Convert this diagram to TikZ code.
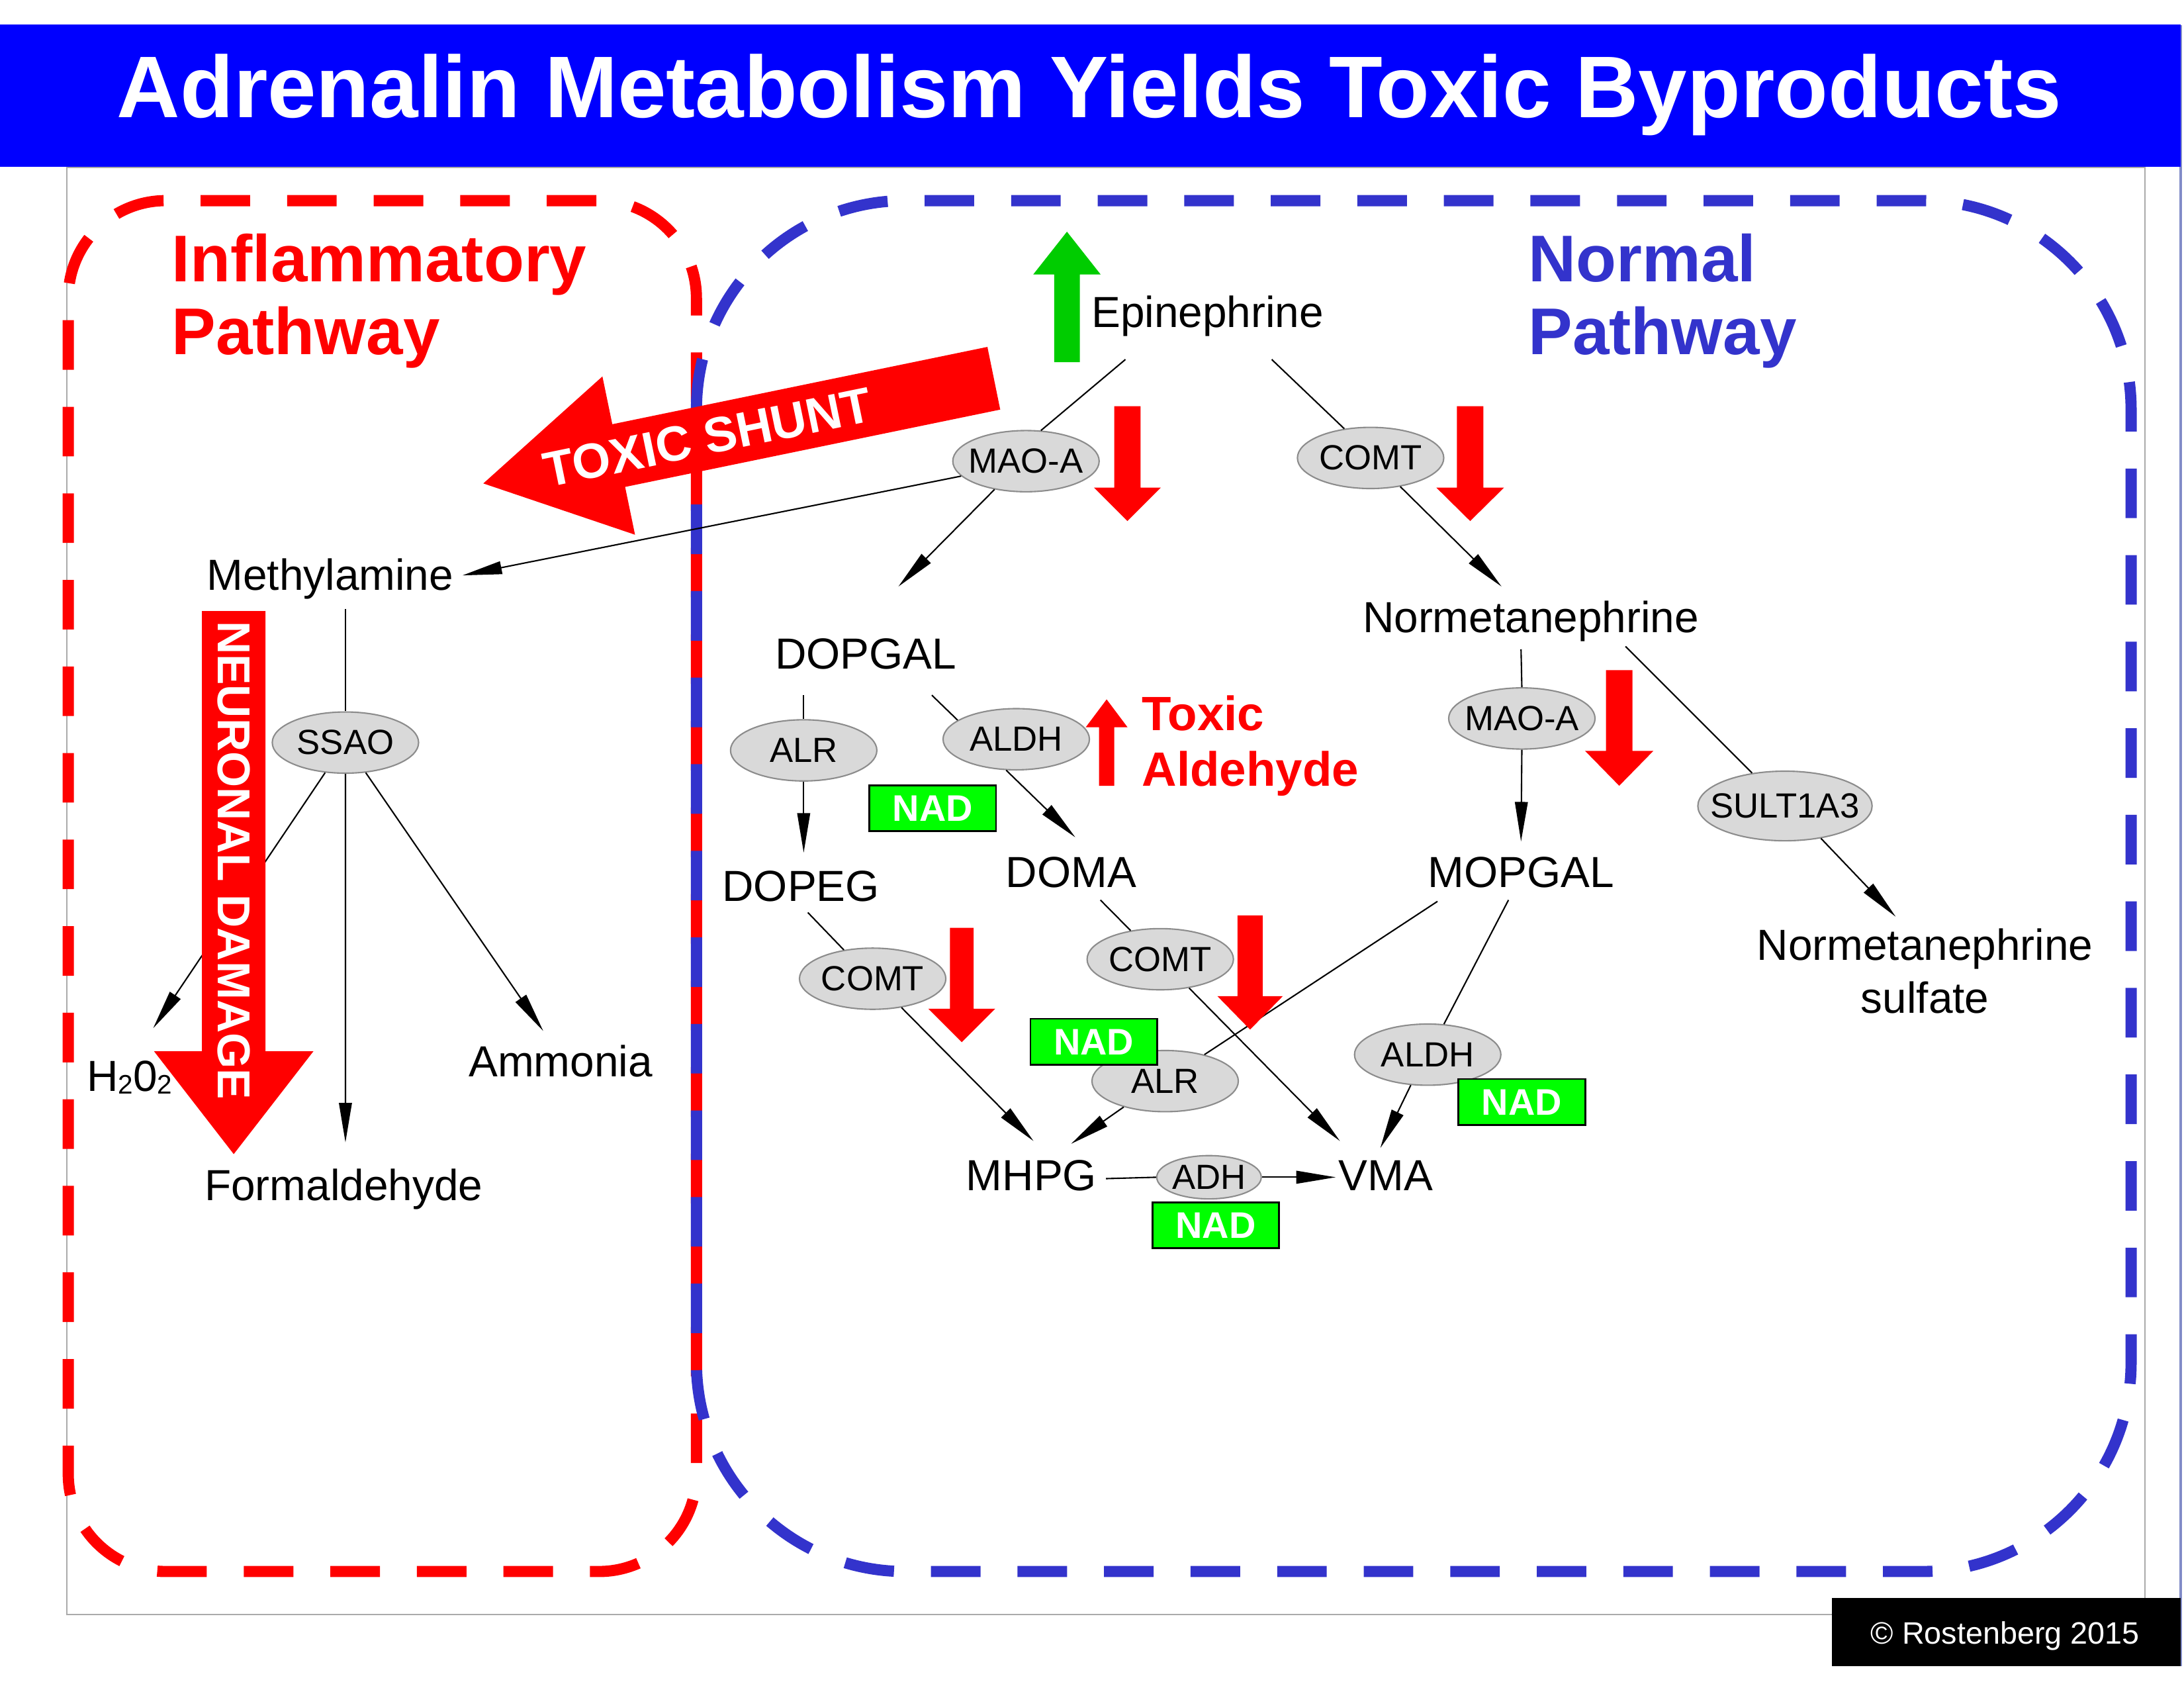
\documentclass[tikz,border=0pt]{standalone}
\usepackage{fontspec}
\setmainfont{Liberation Sans}
\usetikzlibrary{shapes.geometric,arrows.meta,calc}
\definecolor{titleblue}{RGB}{0,0,255}
\definecolor{pathblue}{RGB}{51,51,204}
\definecolor{arrred}{RGB}{255,0,0}
\definecolor{arrgreen}{RGB}{0,204,0}
\definecolor{nadgreen}{RGB}{0,255,0}
\definecolor{enzfill}{RGB}{217,217,217}
\definecolor{enzline}{RGB}{140,140,140}
\definecolor{framegray}{RGB}{170,170,170}
\definecolor{edgeblue}{RGB}{130,140,200}
\newcommand{\blockarrow}[7]{%
  \fill[#7] ({#1-#2},#4) -- ({#1+#2},#4) -- ({#1+#2},#5) -- ({#1+#3},#5) -- (#1,#6) -- ({#1-#3},#5) -- ({#1-#2},#5) -- cycle;}
\newcommand{\smallsub}[1]{{\fontsize{11.5}{12}\selectfont\raisebox{-1.2pt}{#1}}}
\tikzset{
  lbl/.style={font=\fontsize{18.7}{22.6}\selectfont, inner sep=0pt, anchor=base},
  enz/.style={ellipse, draw=enzline, line width=0.6pt, fill=enzfill, inner xsep=-8pt, inner ysep=-3pt,
    minimum width=62.9pt, minimum height=26.3pt, font=\fontsize{15}{18}\selectfont},
  nadbox/.style={draw=black, line width=0.8pt, fill=nadgreen, text=white, inner sep=0pt,
    font=\bfseries\fontsize{15.9}{19}\selectfont, minimum width=54.5pt, minimum height=19.8pt},
  conn/.style={line width=0.6pt, black},
  arr/.style={conn, -{Triangle[length=17pt,width=5.5pt]}},
  dashbox/.style={line width=4.8pt, dash pattern=on 21.3pt off 15.9pt},
  heading/.style={font=\bfseries\fontsize{28.4}{31.2}\selectfont, align=left, inner sep=0pt, anchor=north west},
}
\begin{document}
\begin{tikzpicture}[x=0.021046cm, y=-0.021046cm]
\useasboundingbox (0,0) rectangle (1568,1211.6);
\fill[white] (0,0) rectangle (1568,1211.6);
% frame
\draw[framegray, line width=0.6pt] (48,120) rectangle (1540,1159);
\draw[edgeblue, line width=0.9pt] (1565.6,18) -- (1565.6,1196);
% title band
\fill[titleblue] (0,17.7) rectangle (1565.6,119.9);
\node[font=\bfseries\fontsize{37.6}{45}\selectfont, text=white, inner sep=0pt, anchor=base] (title) at (782,84.3) {Adrenalin Metabolism Yields Toxic Byproducts};
% pathway boxes (shared edge: red dashes fill the gaps of the blue ones)
\draw[dashbox, arrred, rounded corners=41.9pt, dash phase=18.6pt] (500,300) -- (500,1128) -- (49,1128) -- (49,144) -- (500,144) -- (500,300);
\draw[dashbox, pathblue, rounded corners=89.8pt] (500,300) -- (500,1128) -- (1530,1128) -- (1530,144) -- (500,144) -- (500,300);
\node[heading, text=arrred] (infl) at (123,167.4) {Inflammatory\\Pathway};
\node[heading, text=pathblue] (normal) at (1097,167.4) {Normal\\Pathway};
% text nodes
\node[lbl] (epi) at (867,235) {Epinephrine};
\node[lbl] (methyl) at (237,423.5) {Methylamine};
\node[lbl] (normet) at (1099,454) {Normetanephrine};
\node[lbl] (dopgal) at (621.5,480) {DOPGAL};
\node[lbl] (dopeg) at (575,647) {DOPEG};
\node[lbl] (doma) at (769,637) {DOMA};
\node[lbl] (mopgal) at (1092,637) {MOPGAL};
\node[lbl, anchor=north, align=center] (nmsulf) at (1382,666.4) {Normetanephrine\\sulfate};
\node[lbl] (mhpg) at (740.5,854.6) {MHPG};
\node[lbl] (vma) at (995,854.6) {VMA};
\node[lbl] (h2o2) at (93,783.4) {H\smallsub{2}0\smallsub{2}};
\node[lbl] (ammonia) at (402.5,772.6) {Ammonia};
\node[lbl] (formald) at (246.7,861.8) {Formaldehyde};
\node[font=\bfseries\fontsize{20.7}{24}\selectfont, text=arrred, align=left, inner sep=0pt, anchor=north west] (toxald) at (819.6,498.7) {Toxic\\Aldehyde};
% enzymes
\node[enz] (maoA) at (736.6,331) {MAO-A};
\node[enz] (comtA) at (984,328.7) {COMT};
\node[enz] (alrA) at (577,538.6) {ALR};
\node[enz] (aldhA) at (729.6,530.6) {ALDH};
\node[enz] (maoB) at (1092.6,515.7) {MAO-A};
\node[enz, minimum width=74.9pt, minimum height=29.9pt] (sult) at (1281.5,578.5) {SULT1A3};
\node[enz] (comtB) at (626.5,702.5) {COMT};
\node[enz] (comtC) at (833,688.5) {COMT};
\node[enz] (alrB) at (836.5,776) {ALR};
\node[enz] (aldhB) at (1025,757) {ALDH};
\node[enz, minimum width=44.9pt, minimum height=18.6pt] (adh) at (868,845) {ADH};
\node[enz] (ssao) at (248,533) {SSAO};
% NAD boxes
\node[nadbox] (nadA) at (669.6,580.1) {NAD};
\node[nadbox] (nadB) at (785.3,747.8) {NAD};
\node[nadbox] (nadC) at (1092.5,791) {NAD};
\node[nadbox] (nadD) at (872.8,879.5) {NAD};
% connectors
\draw[conn] ($(epi.base)+(-59,23)$) -- (maoA.64);
\draw[arr] (maoA.222) -- ($(dopgal.base)+(23.5,-59)$);
\draw[conn] ($(epi.base)+(46,23)$) -- (comtA.132);
\draw[arr] (comtA.316) -- ($(normet.base)+(-21,-33)$);
\draw[arr] (maoA.193) -- ($(methyl.base)+(95,-10.5)$);
\draw[conn] ($(dopgal.base)+(-44.5,19)$) -- (alrA.north);
\draw[arr] (alrA.south) -- ($(dopeg.base)+(2,-35)$);
\draw[conn] ($(dopgal.base)+(47.5,19)$) -- (aldhA.162);
\draw[arr] (aldhA.252) -- ($(doma.base)+(3,-36)$);
\draw[conn] ($(normet.base)+(-7,12)$) -- (maoB.north);
\draw[arr] (maoB.south) -- ($(mopgal.base)+(0,-33)$);
\draw[conn] ($(normet.base)+(68,10)$) -- (sult.135);
\draw[arr] (sult.318) -- ($(nmsulf.north)+(-21,-8.4)$);
\draw[conn] ($(dopeg.base)+(5,8)$) -- (comtB.135);
\draw[arr] (comtB.315) -- ($(mhpg.base)+(1.5,-35.6)$);
\draw[conn] ($(doma.base)+(21,9)$) -- (comtC.136);
\draw[arr] (comtC.315) -- ($(vma.base)+(-33,-35.6)$);
\draw[conn] ($(mopgal.base)+(-60,10)$) -- (alrB.34);
\draw[arr] (alrB.212) -- ($(mhpg.base)+(28.5,-33.6)$);
\draw[conn] ($(mopgal.base)+(-9,9)$) -- (aldhB.62);
\draw[arr] (aldhB.241) -- ($(vma.base)+(-4,-30.6)$);
\draw[conn] ($(mhpg.base)+(53.5,-8.6)$) -- (adh.west);
\draw[arr] (adh.east) -- ($(vma.base)+(-36,-9.6)$);
\draw[conn] ($(methyl.base)+(11,13.5)$) -- (ssao.north);
\draw[arr] (ssao.south) -- ($(formald.base)+(1.3,-41.8)$);
\draw[arr] (ssao.236) -- ($(h2o2.base)+(17,-45.4)$);
\draw[arr] (ssao.304) -- ($(ammonia.base)+(-12.5,-32.6)$);
% block arrows
\blockarrow{766}{9.2}{24.2}{260}{197}{166.3}{arrgreen}
\blockarrow{809.4}{9.4}{24}{291.6}{350}{374}{arrred}
\blockarrow{1055.5}{9.5}{24.3}{291.6}{350}{374}{arrred}
\blockarrow{1162.5}{9.5}{24.5}{481}{539}{564}{arrred}
\blockarrow{690.5}{8.5}{24}{666}{724}{748}{arrred}
\blockarrow{897.5}{9}{23.5}{657}{715}{739}{arrred}
\blockarrow{794.5}{5.5}{15}{564}{522}{502}{arrred}
\blockarrow{167.8}{22.8}{57.2}{438.6}{754.6}{828.4}{arrred}
\node[font=\bfseries\fontsize{19.8}{24}\selectfont, text=white, rotate=-90, inner sep=0pt] (neuro) at (168,617.5) {NEURONAL DAMAGE};
% toxic shunt arrow
\fill[arrred] (708.9,249.0) -- (718.1,294.0) -- (448.8,349.5) -- (455.9,383.8) -- (347,347) -- (432.5,270.2) -- (439.6,304.5) -- cycle;
\node[font=\bfseries\fontsize{21.2}{25}\selectfont, text=white, rotate=11.64, inner sep=0pt] (shunt) at (508,314) {TOXIC SHUNT};
% copyright
\fill[black] (1315,1147) rectangle (1565.6,1196);
\node[font=\fontsize{13.3}{16}\selectfont, text=white, inner sep=0pt, anchor=base] (copy) at (1439.6,1180) {© Rostenberg 2015};
\end{tikzpicture}
\end{document}
